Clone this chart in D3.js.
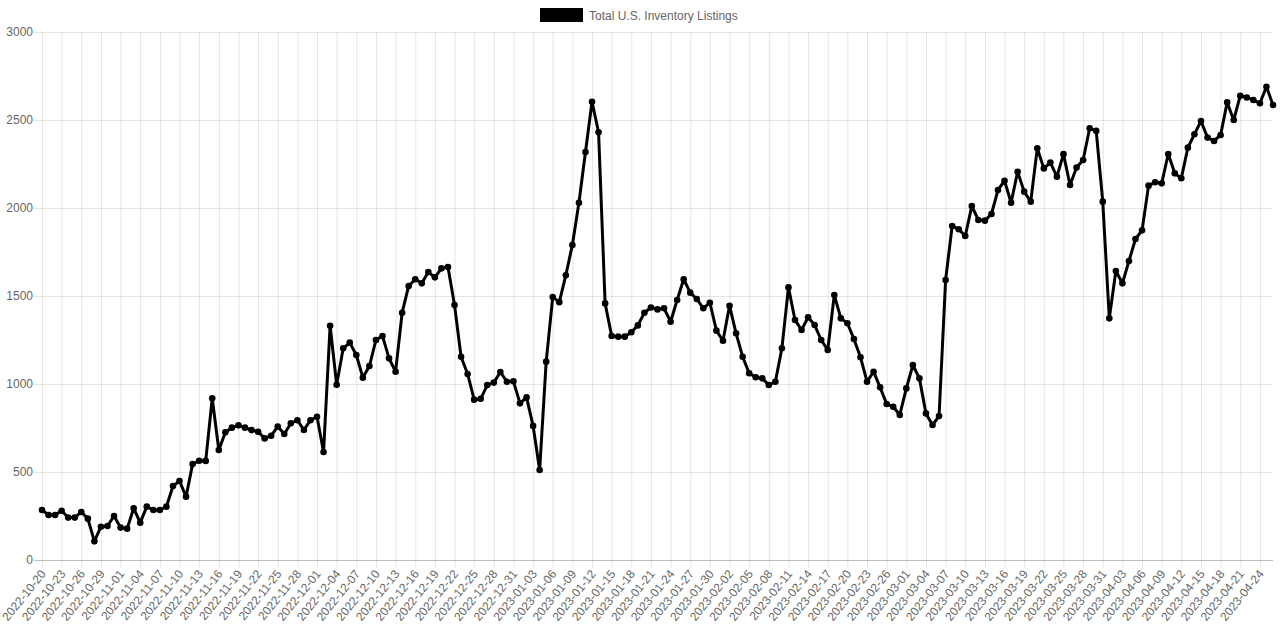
<!DOCTYPE html>
<html>
<head>
<meta charset="utf-8">
<script src="https://cdn.jsdelivr.net/npm/d3@7"></script>
<style>
  html, body { margin: 0; padding: 0; background: #fff; }
  svg { display: block; }
  text { font-family: "Liberation Sans", Arial, Helvetica, sans-serif; }
</style>
</head>
<body>
<svg id="chart" width="1280" height="639"></svg>
<script>
// ---- data ----
const seriesName = "Total U.S. Inventory Listings";
const startDate = "2022-10-20";
const endDate = "2023-04-26";
const listings = [
  284, 256, 256, 280, 241, 241, 273, 235, 106, 189,
  193, 250, 184, 178, 294, 212, 303, 284, 284, 303,
  420, 449, 360, 545, 564, 563, 919, 625, 726, 752,
  765, 752, 738, 729, 691, 706, 758, 716, 777, 794,
  739, 794, 814, 614, 1331, 996, 1203, 1235, 1165, 1036,
  1102, 1250, 1273, 1146, 1070, 1405, 1557, 1595, 1572, 1636,
  1606, 1657, 1665, 1449, 1155, 1057, 911, 916, 994, 1008,
  1068, 1013, 1015, 890, 924, 762, 511, 1127, 1494, 1465,
  1618, 1790, 2030, 2318, 2604, 2430, 1458, 1273, 1269, 1269,
  1294, 1333, 1405, 1435, 1424, 1430, 1354, 1477, 1595, 1519,
  1483, 1430, 1462, 1303, 1246, 1445, 1288, 1155, 1061, 1038,
  1032, 994, 1013, 1203, 1549, 1364, 1307, 1379, 1335, 1250,
  1193, 1506, 1373, 1345, 1256, 1152, 1013, 1070, 981, 886,
  871, 824, 975, 1108, 1032, 833, 767, 818, 1591, 1898,
  1879, 1841, 2011, 1932, 1928, 1966, 2102, 2155, 2030, 2206,
  2093, 2036, 2339, 2225, 2258, 2178, 2306, 2131, 2230, 2273,
  2453, 2438, 2036, 1373, 1642, 1572, 1699, 1824, 1873, 2127,
  2146, 2140, 2307, 2197, 2169, 2343, 2419, 2494, 2400, 2381,
  2415, 2600, 2500, 2638, 2628, 2614, 2595, 2689, 2585
];
const yTicks = [0, 500, 1000, 1500, 2000, 2500, 3000];
const labelEvery = 3;

// ---- categories (daily dates) ----
const fmt = d3.timeFormat("%Y-%m-%d");
const parse = d3.timeParse("%Y-%m-%d");
const dates = d3.timeDay.range(parse(startDate), d3.timeDay.offset(parse(endDate), 1)).map(fmt);
const data = dates.map((d, i) => ({ date: d, value: listings[i] }));

// ---- layout ----
const svg = d3.select("#chart");
const plotLeft = 42, plotRight = 1273, plotTop = 32, plotBottom = 560;
const gridColor = "rgba(0,0,0,0.1)";
const textColor = "#666";

const x = d3.scalePoint().domain(dates).range([plotLeft, plotRight]);
const y = d3.scaleLinear().domain([0, 3000]).range([plotBottom, plotTop]);

// horizontal grid
const yAxis = d3.axisLeft(y).tickValues(yTicks).tickSize(-(plotRight - plotLeft)).tickPadding(10).tickFormat(d3.format("d"));
const gy = svg.append("g").attr("transform", `translate(${plotLeft},0)`).call(yAxis);
gy.select(".domain").remove();
gy.selectAll(".tick line").attr("stroke", gridColor).attr("x1", -8);
gy.selectAll(".tick text").attr("fill", textColor).attr("font-size", 12).attr("x", -9);
gy.selectAll(".tick").filter(d => d === 0).select("line").attr("stroke", "rgba(0,0,0,0.25)");

// vertical grid + labels
const shown = dates.filter((d, i) => i % labelEvery === 0);
const xAxis = d3.axisBottom(x).tickValues(shown).tickSize(-(plotBottom - plotTop)).tickSizeOuter(0);
const gx = svg.append("g").attr("transform", `translate(0,${plotBottom})`).call(xAxis);
gx.select(".domain").remove();
gx.selectAll(".tick line").attr("stroke", gridColor).attr("y1", 8);
gx.selectAll(".tick text")
  .attr("fill", textColor)
  .attr("font-size", 12)
  .attr("text-anchor", "end")
  .attr("dy", null)
  .attr("y", 0)
  .attr("transform", "translate(4,14) rotate(-51)");

// line
const line = d3.line().x(d => x(d.date)).y(d => y(d.value));
svg.append("path")
  .datum(data)
  .attr("fill", "none")
  .attr("stroke", "#000")
  .attr("stroke-width", 3)
  .attr("stroke-linejoin", "round")
  .attr("d", line);

svg.append("g").selectAll("circle")
  .data(data)
  .join("circle")
  .attr("cx", d => x(d.date))
  .attr("cy", d => y(d.value))
  .attr("r", 3.3)
  .attr("fill", "#000");

// legend
const lg = svg.append("g");
lg.append("rect").attr("x", 540).attr("y", 8).attr("width", 43).attr("height", 14).attr("fill", "#000");
lg.append("text").attr("x", 589).attr("y", 19.5).attr("fill", textColor).attr("font-size", 12).text(seriesName);
</script>
</body>
</html>
